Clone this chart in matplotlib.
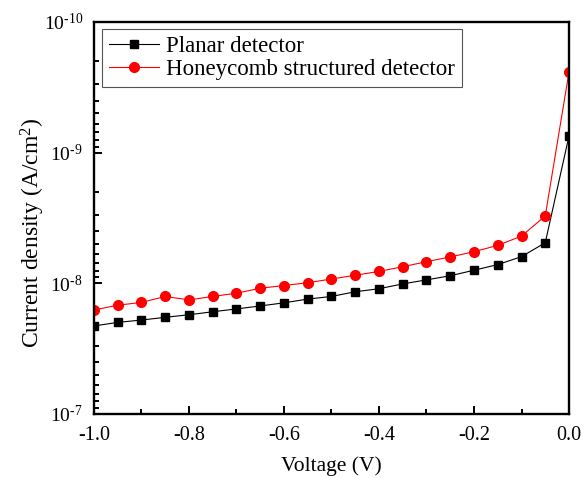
import math
import matplotlib
matplotlib.use("Agg")
import matplotlib.pyplot as plt
from matplotlib.ticker import FixedLocator, FuncFormatter, MultipleLocator, LogLocator, NullFormatter

plt.rcParams['font.family'] = ['Liberation Serif', 'DejaVu Serif']
plt.rcParams['mathtext.fontset'] = 'custom'
plt.rcParams['mathtext.rm'] = 'Liberation Serif'
plt.rcParams['mathtext.it'] = 'Liberation Serif:italic'
plt.rcParams['axes.unicode_minus'] = False

voltage = [-1.00, -0.95, -0.90, -0.85, -0.80, -0.75, -0.70, -0.65, -0.60, -0.55, -0.50,
           -0.45, -0.40, -0.35, -0.30, -0.25, -0.20, -0.15, -0.10, -0.05, 0.00]
planar = [2.12e-8, 1.99e-8, 1.91e-8, 1.82e-8, 1.74e-8, 1.65e-8, 1.57e-8, 1.49e-8, 1.41e-8,
          1.32e-8, 1.26e-8, 1.16e-8, 1.10e-8, 1.01e-8, 9.41e-9, 8.75e-9, 7.94e-9, 7.19e-9,
          6.25e-9, 4.89e-9, 7.45e-10]
honeycomb = [1.60e-8, 1.47e-8, 1.40e-8, 1.26e-8, 1.34e-8, 1.26e-8, 1.19e-8, 1.09e-8, 1.04e-8,
             9.89e-9, 9.27e-9, 8.67e-9, 8.11e-9, 7.46e-9, 6.83e-9, 6.28e-9, 5.73e-9, 5.12e-9,
             4.35e-9, 3.05e-9, 2.41e-10]
series_labels = ["Planar detector", "Honeycomb structured detector"]
xticks = [-1.0, -0.8, -0.6, -0.4, -0.2, 0.0]
yticks = [1e-10, 1e-9, 1e-8, 1e-7]

fig = plt.figure(figsize=(5.83, 4.78), dpi=100)
ax = fig.add_axes([0.1612, 0.1339, 0.976 - 0.1612, 0.954 - 0.1339])

ax.plot(voltage, planar, color='black', lw=0.8, marker='s', ms=6, mec='black', mfc='black',
        label=series_labels[0])
ax.plot(voltage, honeycomb, color='red', lw=0.8, marker='o', ms=7, mec='red', mfc='red',
        label=series_labels[1])

ax.set_yscale('log')
ax.set_ylim(1e-7, 1e-10)
ax.set_xlim(-1.0, 0.0)

ax.xaxis.set_major_locator(FixedLocator(xticks))
ax.xaxis.set_minor_locator(MultipleLocator(0.1))
ax.xaxis.set_major_formatter(FuncFormatter(lambda v, p: f"{v:.1f}" if abs(v) > 1e-9 else "0.0"))

ax.yaxis.set_major_locator(FixedLocator(yticks))
ax.yaxis.set_minor_locator(LogLocator(base=10, subs=range(2, 10)))
ax.yaxis.set_minor_formatter(NullFormatter())


def yfmt(v, p):
    e = round(math.log10(v))
    return r"$\mathregular{10^{\text{-}%d}}$" % abs(e)


ax.yaxis.set_major_formatter(FuncFormatter(yfmt))

ax.tick_params(which='both', direction='in', top=False, right=False, width=1.4)
ax.tick_params(axis='x', which='major', labelsize=14.5, pad=9)
ax.tick_params(axis='y', which='major', labelsize=14, pad=8)
ax.tick_params(which='major', length=6)
ax.tick_params(which='minor', length=3.5)
for s in ax.spines.values():
    s.set_linewidth(1.7)

ax.set_xlabel("Voltage (V)", fontsize=15.5)
ax.xaxis.set_label_coords(0.5, -0.108)
ax.set_ylabel(r"Current density (A/cm$^\mathregular{2}$)", fontsize=17)
ax.yaxis.set_label_coords(-0.098, 0.463)

leg = ax.legend(loc='upper left', bbox_to_anchor=(0.017, 0.982), fontsize=16.5, frameon=True,
                fancybox=False, edgecolor='#555555', framealpha=1, handlelength=2.2,
                handletextpad=0.3, borderpad=0.3, labelspacing=0.1, borderaxespad=0)
leg.get_frame().set_linewidth(0.8)

fig.savefig("out.png", dpi=100)
